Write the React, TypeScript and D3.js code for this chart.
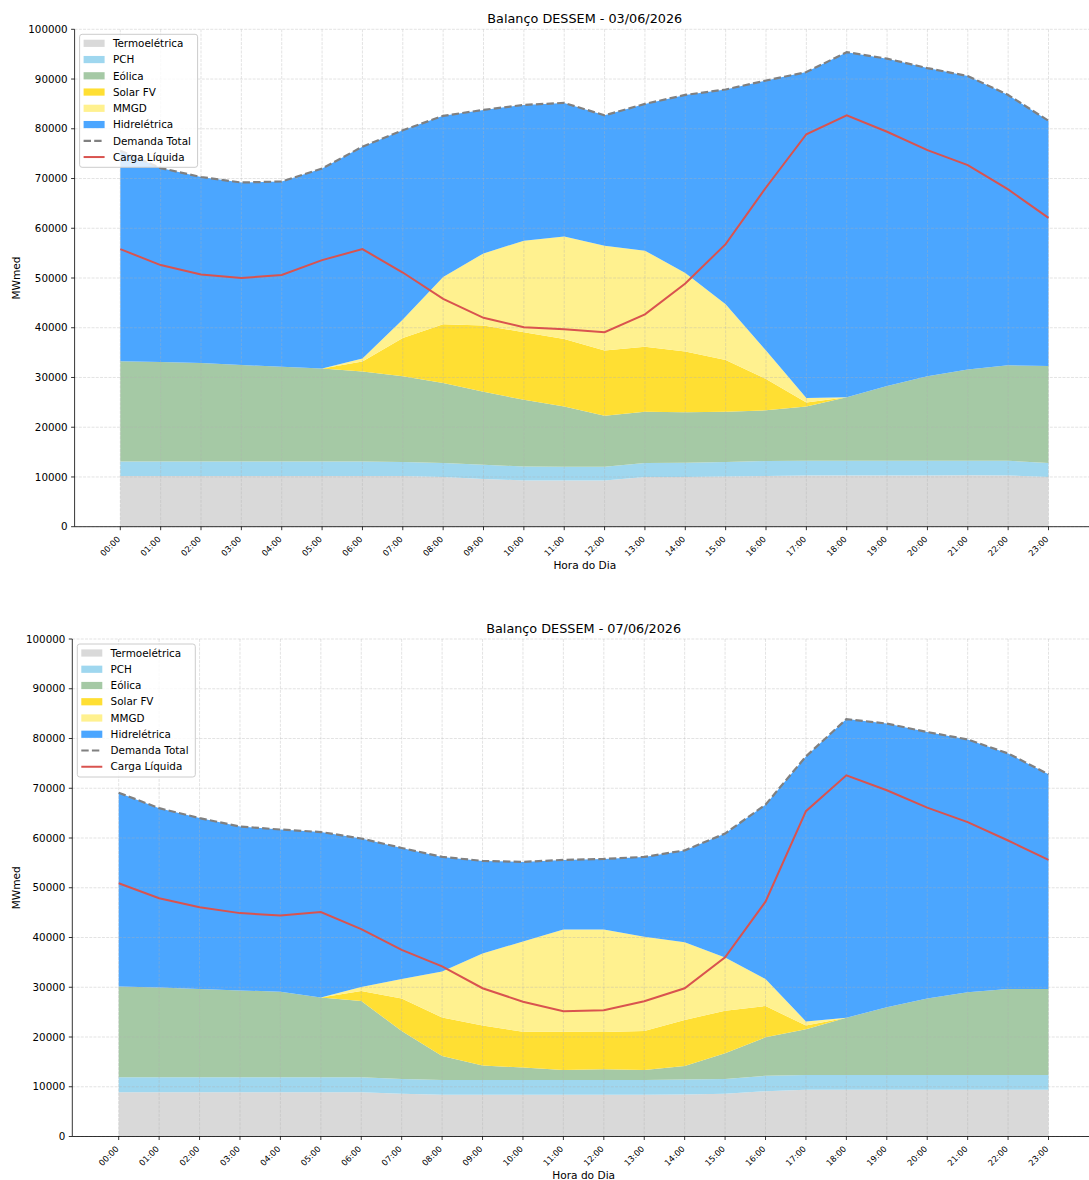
import React from "react";
import * as d3 from "d3";

const hours = ["00:00","01:00","02:00","03:00","04:00","05:00","06:00","07:00","08:00","09:00","10:00","11:00","12:00","13:00","14:00","15:00","16:00","17:00","18:00","19:00","20:00","21:00","22:00","23:00"];
const yTicks = [0,10000,20000,30000,40000,50000,60000,70000,80000,90000,100000];

// Day 1: 03/06/2026
const termo1 = [10200,10200,10200,10200,10200,10200,10200,10200,10000,9600,9300,9300,9300,10000,10000,10100,10200,10300,10300,10300,10300,10350,10300,10000];
const pch1 = [2900,2900,2900,2900,2900,2900,2900,2800,2800,2850,2800,2750,2750,2800,2850,2900,3000,2950,2950,2950,2950,2900,2950,2800];
const eol1 = [20150,20000,19800,19400,19050,18700,18100,17260,16100,14700,13400,12100,10250,10300,10150,10100,10200,10900,12800,15050,17000,18350,19200,19500];
const solar1 = [0,0,0,0,0,0,2000,7700,11800,13300,13600,13600,13100,13100,12200,10400,6300,800,0,0,0,0,0,0];
const mmgd1 = [0,0,0,0,0,0,600,3700,9500,14500,18400,20600,21100,19300,15800,11200,5700,900,0,0,0,0,0,0];
const hidro1 = [42350,39000,37400,36700,37250,40200,42600,38040,32400,28850,27300,26850,26200,29500,35800,43200,54300,65550,69350,65800,61950,59000,54350,49300];
const demanda1 = [75600,72100,70300,69200,69400,72000,76400,79700,82600,83800,84800,85200,82700,85000,86800,87900,89700,91400,95400,94100,92200,90600,86800,81600];
const carga1 = [55800,52600,50700,50000,50600,53600,55800,51100,45800,42000,40100,39700,39100,42700,48900,56800,68200,78900,82700,79400,75700,72700,67800,62100];

// Day 2: 07/06/2026
const termo2 = [8900,8900,8900,8900,8900,8900,8900,8600,8400,8400,8400,8400,8400,8400,8450,8600,9100,9400,9400,9400,9400,9400,9400,9400];
const pch2 = [3000,3000,3000,3000,3000,3000,3000,2970,2970,2970,2970,2970,2970,2970,3000,2970,3100,2980,2980,2980,2980,2980,2980,2980];
const eol2 = [18270,18070,17740,17470,17200,16060,15330,9640,4820,2880,2480,2010,2140,2010,2730,5160,7740,9160,11500,13580,15380,16590,17260,17260];
const solar2 = [0,0,0,0,0,0,2000,6550,7750,8050,7200,7700,7500,7850,9250,8550,6300,750,0,0,0,0,0,0];
const mmgd2 = [0,0,0,0,0,0,800,3900,9250,14500,18150,20550,20600,18900,15600,10700,5400,850,0,0,0,0,0,0];
const hidro2 = [38930,36030,34360,32930,32600,33240,29870,26340,23010,18600,16000,13970,14190,16070,18470,24920,35060,53260,60020,57040,53540,50830,47360,43160];
const demanda2 = [69100,66000,64000,62300,61700,61200,59900,58000,56200,55400,55200,55600,55800,56200,57500,60900,66700,76400,83900,83000,81300,79800,77000,72800];
const carga2 = [50900,47900,46100,44900,44400,45100,41700,37500,34200,29800,27100,25200,25400,27200,29800,36000,47200,65400,72600,69600,66100,63200,59500,55600];

const seriesNames = ["Termoelétrica","PCH","Eólica","Solar FV","MMGD","Hidrelétrica"];
const seriesColors = ["#d9d9d9","#9fd7ef","#a5c9a5","#ffdf33","#fff18f","#4ba6ff"];
const FONT = "DejaVu Sans, Verdana, sans-serif";

type ChartProps = {
  title: string;
  top: number; bottom: number; left: number; right: number; x0: number; x23: number;
  layers: number[][]; demanda: number[]; carga: number[];
};

function Chart(p: ChartProps) {
  const x = d3.scaleLinear().domain([0, 23]).range([p.x0, p.x23]);
  const y = d3.scaleLinear().domain([0, 100000]).range([p.bottom, p.top]);
  const rows = hours.map((_, i) => {
    const r: any = { i };
    seriesNames.forEach((n, k) => (r[n] = p.layers[k][i]));
    return r;
  });
  const stack = d3.stack<any>().keys(seriesNames)(rows);
  const area = d3.area<any>().x((d) => x(d.data.i)).y0((d) => y(d[0])).y1((d) => y(d[1]));
  const line = d3.line<number>().x((_, i) => x(i)).y((d) => y(d));
  const midX = (p.left + p.right) / 2;
  const legendItems = [
    ...seriesNames.map((n, k) => ({ n, type: "patch", c: seriesColors[k] })),
    { n: "Demanda Total", type: "dash", c: "#808080" },
    { n: "Carga Líquida", type: "line", c: "#d9534f" },
  ];
  const lgX = p.left + 5;
  const lgY = p.top + 5;
  const rowH = 16.25;
  return (
    <g>
      {stack.map((s, k) => (
        <path key={k} d={area(s) || ""} fill={seriesColors[k]} stroke="none" />
      ))}
      <g stroke="#b0b0b0" strokeOpacity={0.45} strokeWidth={0.8} strokeDasharray="2.96,1.28">
        {hours.map((_, i) => (
          <line key={"gx" + i} x1={x(i)} x2={x(i)} y1={p.top} y2={p.bottom} />
        ))}
        {yTicks.map((t) => (
          <line key={"gy" + t} x1={p.left} x2={p.right} y1={y(t)} y2={y(t)} />
        ))}
      </g>
      <path d={line(p.demanda) || ""} fill="none" stroke="#808080" strokeWidth={2.2} strokeDasharray="7.4,3.2" />
      <path d={line(p.carga) || ""} fill="none" stroke="#d9534f" strokeWidth={2} />
      {/* axes */}
      <line x1={p.left} x2={p.right} y1={p.bottom} y2={p.bottom} stroke="#000" strokeWidth={0.8} />
      <line x1={p.left} x2={p.left} y1={p.top} y2={p.bottom} stroke="#000" strokeWidth={0.8} />
      {yTicks.map((t) => (
        <g key={"yt" + t}>
          <line x1={p.left - 3.5} x2={p.left} y1={y(t)} y2={y(t)} stroke="#000" strokeWidth={0.8} />
          <text x={p.left - 7} y={y(t)} dy="0.36em" textAnchor="end" fontSize={10.3} fontFamily={FONT} fill="#000">{t}</text>
        </g>
      ))}
      {hours.map((h, i) => (
        <g key={"xt" + i}>
          <line x1={x(i)} x2={x(i)} y1={p.bottom} y2={p.bottom + 3.5} stroke="#000" strokeWidth={0.8} />
          <text transform={`translate(${x(i) + 0.5},${p.bottom + 13}) rotate(-45)`} textAnchor="end" fontSize={8.4} fontFamily={FONT} fill="#000">{h}</text>
        </g>
      ))}
      <text x={midX} y={p.bottom + 42.5} textAnchor="middle" fontSize={10.6} fontFamily={FONT} fill="#000">Hora do Dia</text>
      <text transform={`translate(20,${(p.top + p.bottom) / 2}) rotate(-90)`} textAnchor="middle" fontSize={10.6} fontFamily={FONT} fill="#000">MWmed</text>
      <text x={midX} y={p.top - 6} textAnchor="middle" fontSize={12.8} fontFamily={FONT} fill="#000">{p.title}</text>
      {/* legend */}
      <rect x={lgX} y={lgY} width={118} height={133} rx={2.5} fill="#fff" fillOpacity={0.8} stroke="#cccccc" strokeWidth={1} />
      {legendItems.map((it, k) => {
        const cy = lgY + 9 + k * rowH;
        return (
          <g key={"lg" + k}>
            {it.type === "patch" && <rect x={lgX + 4} y={cy - 3.6} width={21} height={7.2} fill={it.c} />}
            {it.type === "dash" && <line x1={lgX + 4} x2={lgX + 25} y1={cy} y2={cy} stroke={it.c} strokeWidth={2.2} strokeDasharray="7.4,3.2" />}
            {it.type === "line" && <line x1={lgX + 4} x2={lgX + 25} y1={cy} y2={cy} stroke={it.c} strokeWidth={2} />}
            <text x={lgX + 33.3} y={cy} dy="0.36em" fontSize={10.4} fontFamily={FONT} fill="#000">{it.n}</text>
          </g>
        );
      })}
    </g>
  );
}

export default function App() {
  return (
    <svg width={1089} height={1180} style={{ position: "absolute", left: 0, top: 0, display: "block", background: "#fff" }}>
      <rect x={0} y={0} width={1089} height={1180} fill="#fff" />
      <Chart title="Balanço DESSEM - 03/06/2026" top={29.3} bottom={526.7} left={74.6} right={1095} x0={120.3} x23={1048.5}
        layers={[termo1, pch1, eol1, solar1, mmgd1, hidro1]} demanda={demanda1} carga={carga1} />
      <Chart title="Balanço DESSEM - 07/06/2026" top={639} bottom={1136.5} left={72.3} right={1095} x0={118.7} x23={1048.5}
        layers={[termo2, pch2, eol2, solar2, mmgd2, hidro2]} demanda={demanda2} carga={carga2} />
    </svg>
  );
}
